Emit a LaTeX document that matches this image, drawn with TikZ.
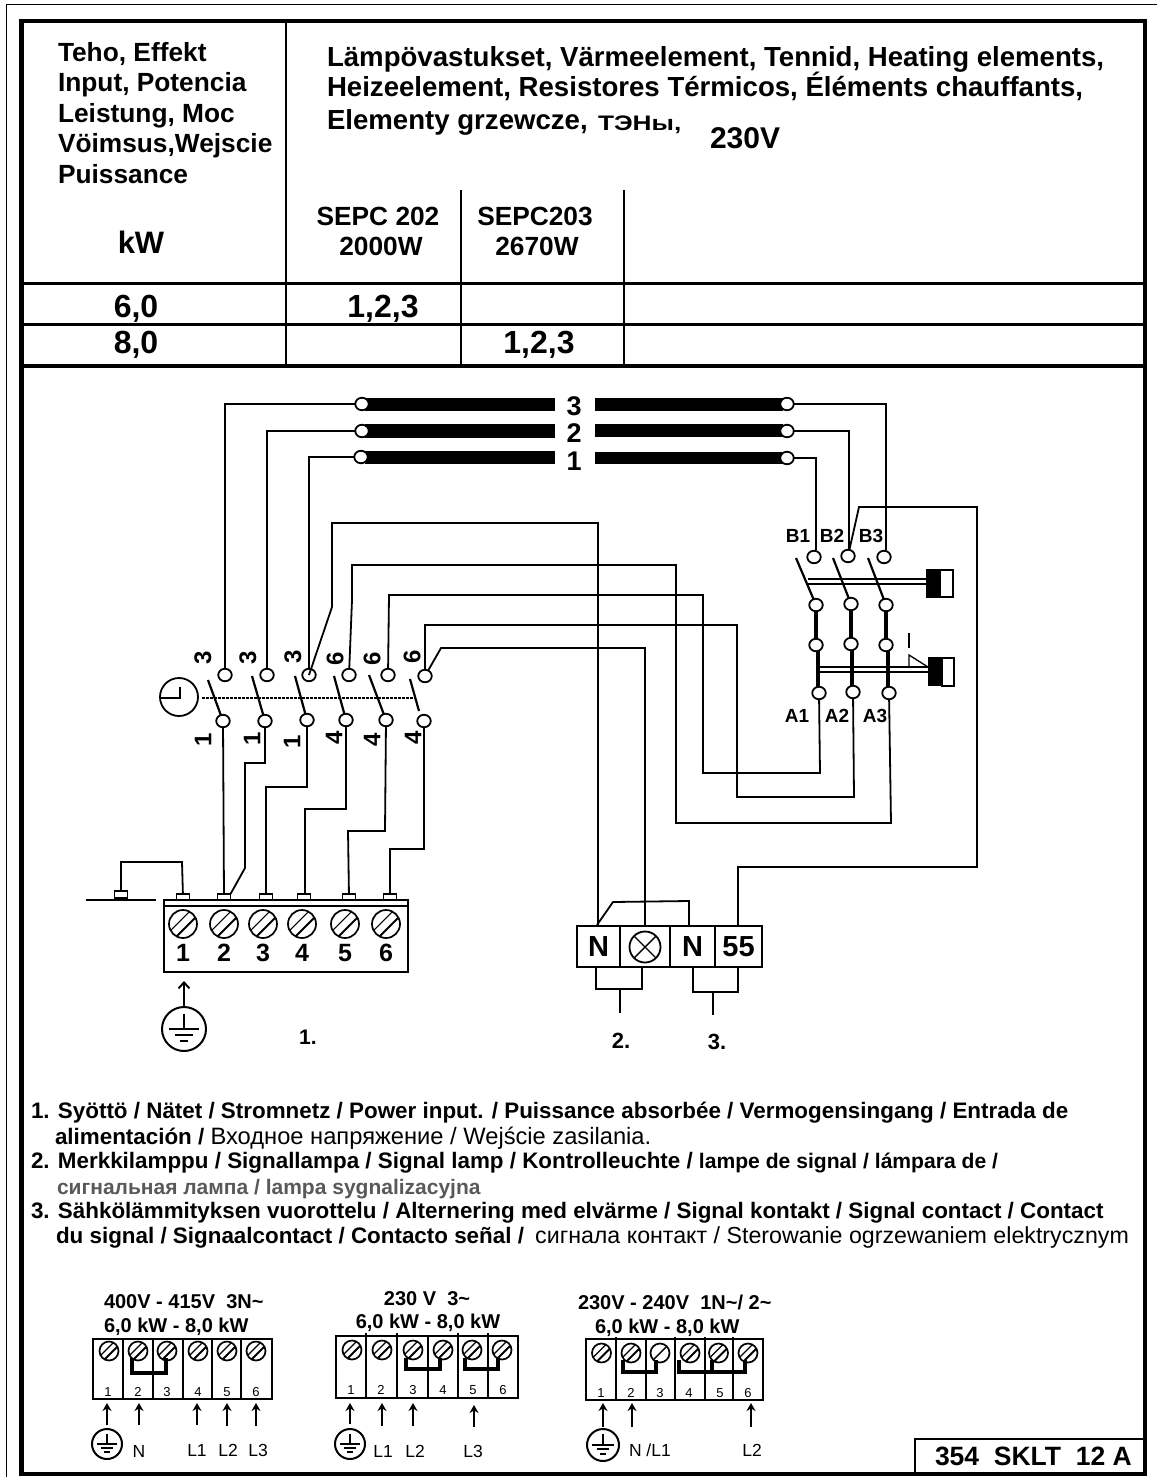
\documentclass[tikz,border=0pt]{standalone}
\usepackage{fontspec}
\setmainfont{Liberation Sans}
\usetikzlibrary{arrows.meta,shapes.geometric,calc}
\newcommand\fs[1]{\fontsize{#1}{#1}\selectfont}
\newcommand\gnd[4]{%
  \node[circle,draw,line width=2pt,minimum size={2*#4 pt},inner sep=0pt,outer sep=0pt] (#1) at (#2,#3) {};
  \begin{scope}[shift={(#2,#3)},x=#4pt,y=-#4pt,line width=2pt]
    \draw (0,-.7) -- (0,0);
    \draw (-.66,0) -- (.66,0);
    \draw (-.4,.25) -- (.4,.25);
    \draw[line width=2.4pt] (-.2,.55) -- (.2,.55);
  \end{scope}}
\newcommand\screw[3]{%
  \begin{scope}[shift={(#1,#2)},x=#3pt,y=-#3pt]
    \draw[fill=white,line width=1.7pt] (0,0) circle (1);
    \draw[line width=1.9pt] (.887,-.463) -- (-.463,.887);
    \draw[line width=1.1pt] (.463,-.887) -- (-.887,.463);
  \end{scope}}
\newcommand\screwb[3]{%
  \begin{scope}[shift={(#1,#2)},x=#3pt,y=-#3pt]
    \draw[fill=white,line width=1.7pt] (0,0) circle (1);
    \draw[line width=1.4pt] (.7,-.7) -- (-.7,.7);
  \end{scope}}
\tikzset{
  wire/.style={line width=1.8pt,line join=miter},
  term/.style={ellipse,draw,fill=white,line width=1.8pt,minimum width=13.5pt,minimum height=12.5pt,inner sep=0pt,outer sep=0pt},
  blade/.style={line width=2.2pt},
  link/.style={line width=3.2pt},
  lug/.style={rectangle,draw,fill=white,line width=1.3pt,minimum width=13pt,minimum height=6pt,inner sep=0pt,outer sep=0pt},
  cell/.style={rectangle,draw,line width=2pt,inner sep=0pt,outer sep=0pt,minimum height=41pt,font=\fs{29}\bfseries},
  tb/.style={anchor=base west,inner sep=0pt,outer sep=0pt,font=\fs{26.3}\bfseries},
  eb/.style={anchor=base west,inner sep=0pt,outer sep=0pt,font=\fs{27.6}\bfseries},
  tc/.style={anchor=base,inner sep=0pt,outer sep=0pt,font=\fs{26.3}\bfseries},
  lg/.style={anchor=base west,inner sep=0pt,outer sep=0pt,font=\fs{22.4}\bfseries},
  rot/.style={rotate=90,inner sep=0pt,outer sep=0pt,font=\fs{24}\bfseries},
  cmark/.style={inner sep=0pt,outer sep=0pt,font=\fs{19}\bfseries},
  num/.style={inner sep=0pt,outer sep=0pt,font=\fs{13}},
  big/.style={inner sep=0pt,outer sep=0pt,font=\fs{25}\bfseries},
  phase/.style={inner sep=0pt,outer sep=0pt,font=\fs{17.5}},
  up/.style={line width=2.2pt,-{Stealth[length=8pt,width=9pt]}},
  hdiv/.style={line width=2.2pt},
  jump/.style={line width=4.2pt,line join=miter},
  head/.style={anchor=base west,inner sep=0pt,outer sep=0pt,font=\fs{20}\bfseries},
  headc/.style={anchor=base,inner sep=0pt,outer sep=0pt,font=\fs{20}\bfseries},
}
\begin{document}
\begin{tikzpicture}[x=1pt,y=-1pt]
\useasboundingbox (0,0) rectangle (1157,1477);
% frames
\draw[line width=1pt] (6.5,1477) -- (6.5,4.5) -- (1157,4.5);
\draw[line width=4.2pt] (21.5,21) rectangle (1145,1474);
% table
\draw[line width=2.8pt] (286,21) -- (286,366);
\draw[line width=2.2pt] (461,190) -- (461,366);
\draw[line width=2.2pt] (624,190) -- (624,366);
\draw[line width=3.2pt] (21.5,283.5) -- (1145,283.5);
\draw[line width=2.2pt] (21.5,324.5) -- (1145,324.5);
\draw[line width=3.2pt] (21.5,366) -- (1145,366);
\node[tb] (h1) at (58,62) {Teho, Effekt};
\node[tb] (h2) at (58,92) {Input, Potencia};
\node[tb] (h3) at (58,123) {Leistung, Moc};
\node[tb] (h4) at (58,153) {Vöimsus,Wejscie};
\node[tb] (h5) at (58,183) {Puissance};
\node[tc,font=\fs{31}\bfseries] (kw) at (141,253) {kW};
\node[eb] (e1) at (327,67) {Lämpövastukset, Värmeelement, Tennid, Heating elements,};
\node[eb] (e2) at (327,97) {Heizeelement, Resistores Térmicos, Éléments chauffants,};
\node[eb] (e3) at (327,129) {Elementy grzewcze,};
\node[eb,font=\fs{21}\bfseries] (e4) at (598,131) {\scalebox{1.25}[1]{ТЭНы,}};
\node[eb,font=\fs{30}\bfseries] (e5) at (710,148) {230V};
\node[tc] (s1) at (378,225) {SEPC 202};
\node[tc] (s2) at (381,255) {2000W};
\node[tc] (s3) at (535,225) {SEPC203};
\node[tc] (s4) at (537,255) {2670W};
\node[tc,font=\fs{32}\bfseries] (r1) at (136,317) {6,0};
\node[tc,font=\fs{32}\bfseries] (r2) at (136,353) {8,0};
\node[tc,font=\fs{32}\bfseries] (r3) at (383,317) {1,2,3};
\node[tc,font=\fs{32}\bfseries] (r4) at (539,353) {1,2,3};
% heaters
\fill (365,398) rectangle (555,411);
\fill (365,424) rectangle (555,438);
\fill (365,451) rectangle (555,464);
\fill (595,398) rectangle (783,411);
\fill (595,424) rectangle (783,437);
\fill (595,452) rectangle (783,464);
\node[big,font=\fs{27}\bfseries] (n3) at (574,406) {3};
\node[big,font=\fs{27}\bfseries] (n2) at (574,433) {2};
\node[big,font=\fs{27}\bfseries] (n1) at (574,461) {1};
\node[term] (hl3) at (362,404) {};
\node[term] (hl2) at (362,431) {};
\node[term] (hl1) at (361,457) {};
\node[term] (hr3) at (787,404) {};
\node[term] (hr2) at (787,431) {};
\node[term] (hr1) at (787,458) {};
% timer switch
\node[term] (u1) at (225,675) {};
\node[term] (u2) at (267,675) {};
\node[term] (u3) at (309,675) {};
\node[term] (u4) at (349,675) {};
\node[term] (u5) at (388,675) {};
\node[term] (u6) at (425,676) {};
\node[term] (d1) at (223,721) {};
\node[term] (d2) at (265,721) {};
\node[term] (d3) at (307,720) {};
\node[term] (d4) at (346,720) {};
\node[term] (d5) at (386,720) {};
\node[term] (d6) at (424,721) {};
\draw[blade] (208,680) -- (d1);
\draw[blade] (252,676) -- (d2);
\draw[blade] (295,676) -- (d3);
\draw[blade] (334,676) -- (d4);
\draw[blade] (369,675) -- (d5);
\draw[blade] (410,679) -- (419,711);
\node[circle,draw,line width=1.8pt,minimum size=38pt,inner sep=0pt,outer sep=0pt] (clk) at (179,697) {};
\draw[line width=2.2pt] (180,687) -- (180,698) -- (161,698);
\draw[line width=1.8pt,dash pattern=on 3pt off 1pt] (clk.east) ++(4,1) -- (415,698);
\foreach \n/\t/\x/\y in {a1/3/203/658,a2/3/248/658,a3/3/293/657,a4/6/335/659,a5/6/372/659,a6/6/412/657,
  b1/1/203/740,b2/1/252/739,b3/1/292/742,b4/4/334/738,b5/4/372/740,b6/4/413/738}{
  \node[rot] (\n) at (\x,\y) {\t};}
% connection block
\node[lug] (t1) at (183,897) {};
\node[lug] (t2) at (224,897) {};
\node[lug] (t3) at (266,897) {};
\node[lug] (t4) at (304,897) {};
\node[lug] (t5) at (349,897) {};
\node[lug] (t6) at (390,897) {};
\node[lug,line width=1.8pt,minimum height=7pt] (t0) at (121,894.5) {};
\draw[line width=1.1pt] (86,900) -- (156,900);
\draw[line width=2pt] (164,900) rectangle (408,972);
\draw[line width=1.1pt] (164,906) -- (408,906);
\foreach \x/\t in {183/1,224/2,263/3,302/4,345/5,386/6}{
  \screw{\x}{924}{14}
  \node[big] (c\t) at (\x,953) {\t};}
\draw[wire] (t0) -- (121,862) -- (182,862) -- (t1);
\draw[wire] (d1) -- (t2);
\draw[wire] (d2) -- (265,763) -- (245,763) -- (245,868) -- (t2.north east);
\draw[wire] (d3) -- (307,787) -- (266,787) -- (t3);
\draw[wire] (d4) -- (346,809) -- (305,809) -- (t4.north -| 305,0);
\draw[wire] (d5) -- (385,831) -- (348,831) -- (t5);
\draw[wire] (d6) -- (424,849) -- (390,849) -- (t6);
\draw[line width=1.9pt,-{Straight Barb[length=6pt,width=11pt]}] (184,1008) -- (184,981);
\gnd{g0}{184}{1029}{22}
\node[cmark,font=\fs{21}\bfseries] (l1) at (308,1037) {1.};
% signal block
\node[cell,minimum width=43pt] (c1n) at (598.5,946.5) {N};
\node[cell,minimum width=50pt] (c2n) at (645,946.5) {};
\node[cell,minimum width=45pt] (c3n) at (692.5,946.5) {N};
\node[cell,minimum width=47pt] (c4n) at (738.5,946.5) {55};
\node[circle,draw,line width=1.8pt,minimum size=31pt,inner sep=0pt,outer sep=0pt] (lamp) at (645,947) {};
\draw[line width=1.4pt] (lamp.45) -- (lamp.225) (lamp.135) -- (lamp.315);
\draw[wire] (u3.center) -- (332,607) -- (332,523) -- (598,523) -- (598,926);
\draw[wire] (597,925) -- (613,902) -- (689,901) -- (689,926);
\draw[wire] (u6) -- (441,648) -- (645,648) -- (645,926);
\draw[wire] (596,967) -- (596,989) -- (642,989) -- (642,967);
\draw[wire] (620,989) -- (620,1013);
\draw[wire] (693,967) -- (693,992) -- (738,992) -- (738,967);
\draw[wire] (713,992) -- (713,1015);
\node[cmark,font=\fs{22}\bfseries] (l2) at (621,1041) {2.};
\node[cmark,font=\fs{22}\bfseries] (l3) at (717,1042) {3.};
% contactor
\node[term] (b1) at (814,557) {};
\node[term] (b2) at (848,556) {};
\node[term] (b3) at (884,557) {};
\node[term] (m1) at (816,605) {};
\node[term] (m2) at (851,604) {};
\node[term] (m3) at (886,605) {};
\node[term] (k1) at (816,645) {};
\node[term] (k2) at (851,644) {};
\node[term] (k3) at (886,645) {};
\node[term] (a1n) at (819,693) {};
\node[term] (a2n) at (853,692) {};
\node[term] (a3n) at (889,693) {};
\draw[blade] (796,558) -- (m1);
\draw[blade] (833,558) -- (m2);
\draw[blade] (868,558) -- (m3);
\draw[link] (m1) -- (k1);
\draw[link] (m2) -- (k2);
\draw[link] (m3) -- (k3);
\draw[link] (k1.south -| 818,0) -- (a1n.north -| 818,0);
\draw[link] (k2.south -| 852,0) -- (a2n.north -| 852,0);
\draw[link] (k3.south -| 888,0) -- (a3n.north -| 888,0);
\draw[wire] (808,579) -- (927,579) (808,584) -- (927,584);
\draw[wire] (818,667) -- (928,667) (818,672) -- (928,672);
\fill (926,569) rectangle (940,598);
\draw[line width=1.4pt] (940,570) rectangle (953,597);
\fill (928,657) rectangle (942,686);
\draw[line width=1.4pt] (942,658) rectangle (954,686);
\draw[line width=1.3pt] (909,667) -- (909,655) -- (928,667);
\draw[line width=1.6pt] (909,633) -- (909,648);
\foreach \n/\t/\x/\y in {lb1/B1/798/536,lb2/B2/832/536,lb3/B3/871/536,la1/A1/797/716,la2/A2/837/716,la3/A3/875/716}{
  \node[cmark] (\n) at (\x,\y) {\t};}
% heater wiring
\draw[wire] (hl3) -- (225,404) -- (u1);
\draw[wire] (hl2) -- (267,431) -- (u2);
\draw[wire] (hl1) -- (309,457) -- (u3);
\draw[wire] (hr1) -- (816,458) -- (816,550);
\draw[wire] (hr2) -- (849,431) -- (849,549);
\draw[wire] (hr3) -- (886,404) -- (886,550);
\draw[wire] (u4) -- (352,600) -- (352,565) -- (676,565) -- (676,823) -- (891,823) -- (a3n);
\draw[wire] (u5) -- (389,595) -- (703,595) -- (703,773) -- (820,773) -- (a1n);
\draw[wire] (u6) -- (425,625) -- (737,625) -- (737,797) -- (854,797) -- (a2n);
\draw[wire] (c4n.north -| 738,0) -- (738,867) -- (977,867) -- (977,507) -- (859,507) -- (b2);
% legend
\node[lg] (t11) at (31,1118) {1. Syöttö / Nätet / Stromnetz / Power input. / Puissance absorbée / Vermogensingang / Entrada de};
\node[lg] (t12) at (55,1144) {alimentación / {\mdseries\fs{23.7}Входное напряжение / Wejście zasilania.}};
\node[lg] (t21) at (31,1168) {2. Merkkilamppu / Signallampa / Signal lamp / Kontrolleuchte / {\fs{21.1}lampe de signal / lámpara de /}};
\node[lg,font=\fs{21}\bfseries,text=black!65] (t22) at (57,1194) {сигнальная лампа / lampa sygnalizacyjna};
\node[lg] (t31) at (31,1218) {3. Sähkölämmityksen vuorottelu / Alternering med elvärme / Signal kontakt / Signal contact / Contact};
\node[lg] (t32) at (56,1243) {du signal / Signaalcontact / Contacto señal / \hspace{5pt}{\mdseries\fs{23.2}сигнала контакт / Sterowanie ogrzewaniem elektrycznym}};
% block 1
\node[head] (q1) at (104,1308) {400V - 415V~~3N\textasciitilde};
\node[head] (q2) at (104,1332) {6,0 kW - 8,0 kW};
\draw[line width=1.8pt] (93,1339) rectangle (272,1399);
\foreach \x in {123,183,212,241}{\draw[hdiv] (\x,1339) -- (\x,1399);}
\draw[line width=1.3pt] (153,1339) -- (153,1399);
\foreach \x/\y/\t in {109/108/1,138/138/2,167/167/3,198/198/4,227/227/5,256/256/6}{
  \screw{\x}{1351}{9.5}
  \node[num] (w\t) at (\y,1392) {\t};}
\draw[jump] (132,1358) -- (132,1373) -- (166,1373) -- (166,1358);
\draw[up] (107,1425) -- (107,1403);
\draw[up] (139,1425) -- (139,1403);
\draw[up] (197,1425) -- (197,1403);
\draw[up] (227,1426) -- (227,1403);
\draw[up] (256,1426) -- (256,1403);
\gnd{g1}{107}{1444}{15}
\node[phase] (p1) at (139,1451) {N};
\node[phase] (p2) at (197,1450) {L1};
\node[phase] (p3) at (228,1450) {L2};
\node[phase] (p4) at (258,1450) {L3};
% block 2
\node[headc] (v1) at (427,1305) {230 V~~3\textasciitilde};
\node[headc] (v2) at (428,1328) {6,0 kW - 8,0 kW};
\draw[line width=1.8pt] (336,1336) rectangle (518,1398);
\foreach \x in {366,397,458,488}{\draw[hdiv] (\x,1333) -- (\x,1398);}
\draw[line width=1.3pt] (428,1336) -- (428,1398);
\foreach \x/\y/\t in {352/351/1,382/381/2,413/413/3,443/443/4,472/473/5,502/503/6}{
  \screw{\x}{1350}{9.5}
  \node[num] (x\t) at (\y,1390) {\t};}
\draw[jump] (406,1358) -- (406,1369) -- (440,1369) -- (440,1358);
\draw[jump] (465,1358) -- (465,1369) -- (498,1369) -- (498,1358);
\draw[up] (350,1424) -- (350,1403);
\draw[up] (382,1426) -- (382,1403);
\draw[up] (413,1426) -- (413,1403);
\draw[up] (474,1427) -- (474,1405);
\gnd{g2}{350}{1444}{15}
\node[phase] (p5) at (383,1451) {L1};
\node[phase] (p6) at (415,1451) {L2};
\node[phase] (p7) at (473,1451) {L3};
% block 3
\node[head] (y1) at (578,1309) {230V - 240V~~1N\textasciitilde/ 2\textasciitilde};
\node[head] (y2) at (595,1333) {6,0 kW - 8,0 kW};
\draw[line width=1.8pt] (586,1339) rectangle (763,1400);
\foreach \x in {616,675,705,733}{\draw[hdiv] (\x,1337) -- (\x,1400);}
\draw[line width=1.3pt] (646,1339) -- (646,1400);
\foreach \x/\y/\t in {601.5/601/1,631/631/2,690/689/4,718.5/720/5,748/748/6}{
  \screw{\x}{1353}{9.5}
  \node[num] (y\t n) at (\y,1393) {\t};}
\screwb{660}{1353}{9.5}
\node[num] (y3n) at (660,1393) {3};
\draw[jump] (623,1360) -- (623,1372) -- (656,1372) -- (656,1360);
\draw[jump] (679,1360) -- (679,1372) -- (745,1372) -- (745,1360);
\draw[line width=3.5pt] (712,1372) -- (712,1360);
\draw[up] (603,1427) -- (603,1403);
\draw[up] (632,1427) -- (632,1403);
\draw[up] (751,1427) -- (751,1403);
\gnd{g3}{603}{1445}{16}
\node[phase,anchor=base west] (p8) at (629,1456) {N /L1};
\node[phase] (p9) at (752,1450) {L2};
% code box
\draw[line width=1.8pt] (915,1474) -- (915,1439) -- (1145,1439);
\node[tb,font=\fs{26.5}\bfseries] (code) at (935,1465) {354~~SKLT~~12 A};
\end{tikzpicture}
\end{document}
